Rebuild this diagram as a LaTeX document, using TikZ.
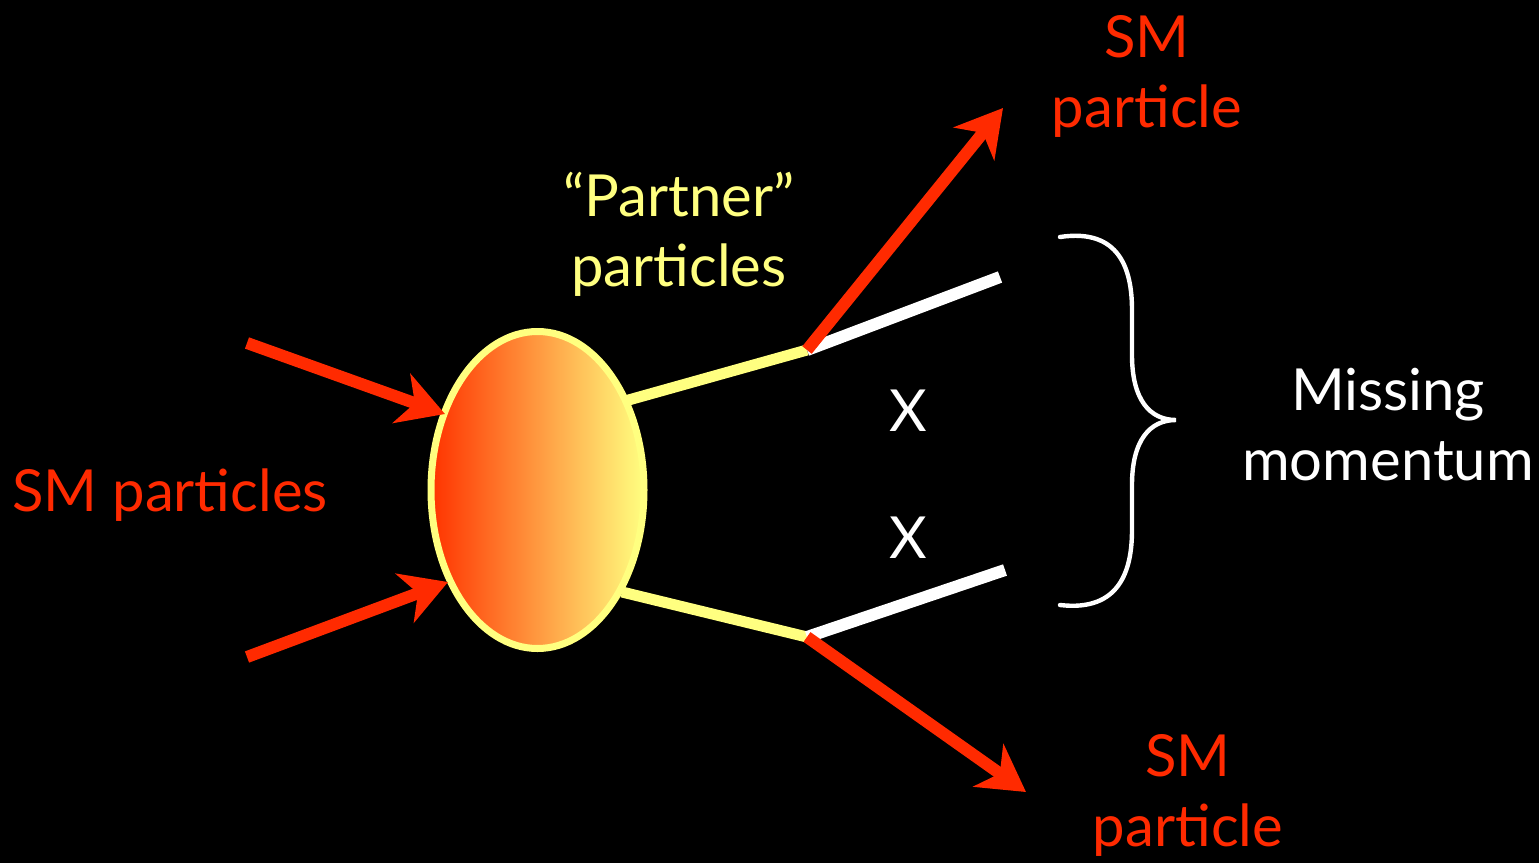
\documentclass[tikz,border=0pt]{standalone}
\usepackage{fontspec}
\setmainfont{Lato}
\usetikzlibrary{arrows.meta,shapes.geometric}
\definecolor{smred}{HTML}{FF2A00}
\definecolor{pyel}{HTML}{FFFF80}
\definecolor{gred}{HTML}{FF3300}
\begin{document}
\begin{tikzpicture}[x=0.5pt,y=-0.5pt,
  lbl/.style={font=\fontsize{29}{35}\selectfont, align=center, inner sep=0pt},
  redarrow/.style={draw=smred, line width=6pt, -{Stealth[length=23pt,width=26pt,inset=7pt]}},
  partner/.style={draw=pyel, line width=5.5pt},
  invis/.style={draw=white, line width=6pt},
  brace/.style={draw=white, line width=2.2pt, line cap=round}]
\fill[black] (0,0) rectangle (1539,863);
\useasboundingbox (0,0) rectangle (1539,863);
% blob
\node[ellipse, minimum width=106.5pt, minimum height=158.5pt, inner sep=0pt,
  left color=gred, right color=pyel, draw=pyel, line width=3.5pt] (blob) at (537.5,490) {};
% points
\coordinate (in1) at (247,343);
\coordinate (in2) at (247,657);
\coordinate (t1) at (445,414);
\coordinate (t2) at (448,582);
\coordinate (p1s) at (625,401);
\coordinate (p2s) at (622,592);
\coordinate (v1) at (807,350);
\coordinate (v2) at (807,637);
\coordinate (w1) at (1000,277);
\coordinate (w2) at (1005,570);
\coordinate (o1) at (1003,108);
\coordinate (o2) at (1026,792);
% lines
\draw[partner] (p1s) -- (v1);
\draw[partner] (p2s) -- (v2);
\draw[invis] (v1) -- (w1);
\draw[invis] (v2) -- (w2);
\draw[redarrow] (in1) -- (t1);
\draw[redarrow] (in2) -- (t2);
\draw[redarrow] (v1) -- (o1);
\draw[redarrow] (v2) -- (o2);
% brace
\coordinate (b1) at (1060,237);
\coordinate (bc) at (1176,420);
\coordinate (b2) at (1060,605);
\draw[brace] (b1) .. controls (1120,228) and (1132,270) .. (1132,310)
  -- (1132,355) .. controls (1132,400) and (1150,420) .. (bc)
  .. controls (1150,420) and (1132,440) .. (1132,485)
  -- (1132,530) .. controls (1132,570) and (1120,612) .. (b2);
% labels
\node[lbl, text=smred] (smin) at (170,495) {SM particles};
\node[lbl, text=smred] (smtop) at (1147,76) {SM\\particle};
\node[lbl, text=smred] (smbot) at (1188,795) {SM\\particle};
\node[lbl, text=pyel] (partner) at (679,234) {“Partner”\\particles};
\node[lbl, text=white] (x1) at (908,411) {X};
\node[lbl, text=white] (x2) at (908,538) {X};
\node[lbl, text=white] (miss) at (1388,425) {Missing\\momentum};
\end{tikzpicture}
\end{document}
